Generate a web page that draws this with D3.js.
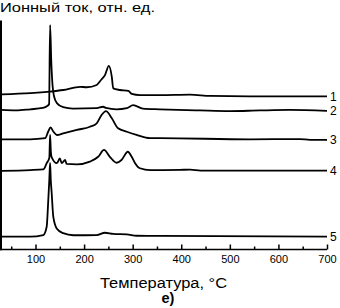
<!DOCTYPE html>
<html><head><meta charset="utf-8">
<script src="https://cdn.jsdelivr.net/npm/d3@7"></script>
<style>
html,body{margin:0;padding:0;background:#fff;}
svg{display:block;font-family:"Liberation Sans",Arial,sans-serif;}
</style></head>
<body>
<svg id="chart" width="340" height="308"></svg>
<script>
// Temperature (°C) and relative ion current for each curve (with vertical offsets)
const t1 = [30, 90, 130, 157, 192, 205, 226, 236, 243, 251, 257, 260, 274, 291, 298, 315, 356, 418, 460, 541, 700];
const i1 = [67.6, 68.1, 68.8, 69.5, 70.9, 70.7, 71.7, 74.2, 76.0, 80.0, 75.3, 70.2, 69.5, 69.1, 67.8, 67.3, 67.3, 67.5, 66.9, 66.7, 66.7];

const t2 = [30, 60, 89, 115, 124, 128, 130, 132.5, 135, 138, 144, 157, 177, 226, 239, 245, 267, 288, 301, 321, 356, 438, 500, 562, 623, 700];
const i2 = [60.8, 60.6, 61.1, 61.7, 62.5, 63.4, 97.8, 81.7, 71.7, 66.9, 63.8, 62.0, 61.4, 61.6, 62.2, 61.7, 61.1, 61.6, 62.9, 61.4, 61.1, 60.6, 60.3, 60.6, 60.8, 60.4];

const t3 = [30, 89, 120, 126, 131, 137, 144, 157, 185, 212, 226, 236, 245, 257, 270, 288, 308, 336, 356, 541, 644, 665, 700];
const i3 = [48.0, 48.0, 48.5, 51.3, 53.2, 51.3, 49.9, 50.6, 52.1, 53.5, 55.0, 58.6, 60.3, 57.2, 52.8, 51.3, 49.9, 48.5, 48.5, 48.0, 48.1, 47.8, 47.8];

const t4 = [30, 89, 116, 123, 128.5, 130, 131.5, 133, 144, 150, 154, 161, 164, 185, 212, 229, 241, 253, 267, 277, 290, 298, 305, 315, 336, 397, 418, 440, 700];
const i4 = [34.3, 34.6, 34.9, 37.6, 40.0, 49.9, 43.0, 40.4, 37.6, 39.7, 37.6, 39.0, 37.3, 37.1, 38.3, 40.4, 43.4, 40.4, 37.8, 39.0, 42.6, 40.4, 37.6, 35.4, 34.6, 34.7, 34.8, 34.4, 34.4];

const t5 = [30, 89, 116, 123, 126, 128.4, 130, 131.5, 133.3, 136.6, 143.6, 157, 178, 226, 243, 260, 288, 308, 356, 700];
const i5 = [5.6, 5.6, 6.3, 9.9, 20.3, 30.3, 37.7, 30.0, 24.6, 14.3, 9.2, 7.1, 6.2, 6.3, 7.3, 6.8, 6.6, 6.0, 5.9, 5.6];

const curveLabels = ["1", "2", "3", "4", "5"];
const majorTicks = [100, 200, 300, 400, 500, 600, 700];
const minorTicks = [50, 150, 250, 350, 450, 550, 650];
const yTitle = "Ионный ток, отн. ед.";
const xTitle = "Температура, °C";
const panelLabel = "e)";

const series = [[t1, i1], [t2, i2], [t3, i3], [t4, i4], [t5, i5]];

const svg = d3.select("#chart");
const x = d3.scaleLinear().domain([30, 700]).range([1.5, 327]);
const y = d3.scaleLinear().domain([0, 100]).range([249.5, 20]);

const line = d3.line()
  .x(d => x(d[0]))
  .y(d => y(d[1]))
  .curve(d3.curveMonotoneX);

series.forEach(([ts, vs], k) => {
  const pts = ts.map((t, j) => [t, vs[j]]);
  svg.append("path")
    .datum(pts)
    .attr("d", line)
    .attr("fill", "none")
    .attr("stroke", "#000")
    .attr("stroke-width", 1.8)
    .attr("stroke-linejoin", "round");
  const last = pts[pts.length - 1];
  svg.append("text")
    .attr("x", x(last[0]) + 3)
    .attr("y", y(last[1]))
    .attr("dy", "0.36em")
    .attr("font-size", 12)
    .text(curveLabels[k]);
});

// x axis (ticks pointing inward/up)
const gx = svg.append("g").attr("transform", `translate(0,${y(0)})`);
gx.call(d3.axisBottom(x).tickValues(majorTicks).tickSizeInner(-5).tickSizeOuter(0).tickPadding(6).tickFormat(d3.format("d")));
gx.select(".domain").attr("stroke-width", 1.5).attr("d", `M0,0H${x(700)}`);
gx.selectAll(".tick line").attr("stroke-width", 1.5);
gx.selectAll(".tick text").attr("font-size", 11).attr("font-family", "Liberation Sans, Arial, sans-serif").attr("fill", "#000");

const gm = svg.append("g").attr("transform", `translate(0,${y(0)})`);
gm.call(d3.axisBottom(x).tickValues(minorTicks).tickSizeInner(-3).tickSizeOuter(0).tickFormat(""));
gm.select(".domain").remove();
gm.selectAll(".tick line").attr("stroke-width", 1.5);

// left spine
svg.append("line")
  .attr("x1", 1).attr("x2", 1)
  .attr("y1", y(100) + 0.5).attr("y2", y(0) + 0.75)
  .attr("stroke", "#000").attr("stroke-width", 2);

// titles
svg.append("text")
  .attr("x", 0).attr("y", 12)
  .attr("font-size", 13)
  .attr("textLength", 155).attr("lengthAdjust", "spacingAndGlyphs")
  .text(yTitle);

svg.append("text")
  .attr("x", 100).attr("y", 288)
  .attr("font-size", 14)
  .attr("textLength", 127).attr("lengthAdjust", "spacingAndGlyphs")
  .text(xTitle);

svg.append("text")
  .attr("x", 168).attr("y", 303)
  .attr("text-anchor", "middle")
  .attr("font-size", 14.5)
  .attr("font-weight", "bold")
  .text(panelLabel);
</script>
</body></html>
